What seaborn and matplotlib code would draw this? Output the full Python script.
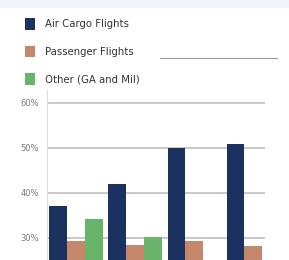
import numpy as np
import pandas as pd
import seaborn as sns
import matplotlib.pyplot as plt
from matplotlib.patches import Patch, Rectangle
from matplotlib.lines import Line2D

# data (percent)
groups = ["1", "2", "3", "4"]
series = ["Air Cargo Flights", "Passenger Flights", "Other (GA and Mil)"]
air_cargo = [37.1, 41.9, 50.0, 50.8]
passenger = [29.3, 28.3, 29.3, 28.2]
other = [34.1, 30.2, np.nan, np.nan]
yticks = [30, 40, 50, 60]
colors = ["#1b3260", "#c4876a", "#68b468"]

df = pd.DataFrame({
    "group": groups * 3,
    "series": [s for s in series for _ in groups],
    "value": air_cargo + passenger + other,
})

sns.set_style("white")
plt.rcParams['font.family'] = ['DejaVu Sans']

fig = plt.figure(figsize=(2.89, 2.60), dpi=100)
ax = fig.add_axes([47 / 289, 0, 218 / 289, 170 / 260])

sns.barplot(data=df, x="group", y="value", hue="series", palette=colors,
            width=0.9, saturation=1, ax=ax, legend=False,
            edgecolor="none", linewidth=0)

ax.set_ylim(25.0, 62.8)
ax.set_xlim(-0.49, 3.2)
ax.set_yticks(yticks)
ax.set_yticklabels([f"{t}%" for t in yticks], fontsize=6, color="#777777")
ax.tick_params(axis="y", length=0, pad=6)
ax.set_xticks([])
ax.set_xlabel("")
ax.set_ylabel("")
ax.grid(axis="y", color="#c4c4c4", linewidth=1.3)
ax.set_axisbelow(True)
for s in ["top", "right", "bottom"]:
    ax.spines[s].set_visible(False)
ax.spines["left"].set_color("#dddddd")
ax.spines["left"].set_linewidth(0.8)

# legend at the top
handles = [Patch(facecolor=c, edgecolor="none") for c in colors]
fig.legend(handles, series, loc="upper left", bbox_to_anchor=(16 / 289, 1 - 9 / 260),
           frameon=False, fontsize=7.3, handlelength=1.0, handleheight=1.4,
           labelspacing=1.55, handletextpad=1.0, labelcolor="#333333")

# light band at the top and the stray line
fig.patches.append(Rectangle((0, 1 - 8 / 260), 1, 8 / 260, transform=fig.transFigure,
                             facecolor="#eef4fa", edgecolor="none", zorder=0))
fig.lines.append(Line2D([160 / 289, 277 / 289], [1 - 58 / 260, 1 - 58 / 260],
                        transform=fig.transFigure, color="#999999", linewidth=0.8))

fig.savefig("out.png", dpi=100)
